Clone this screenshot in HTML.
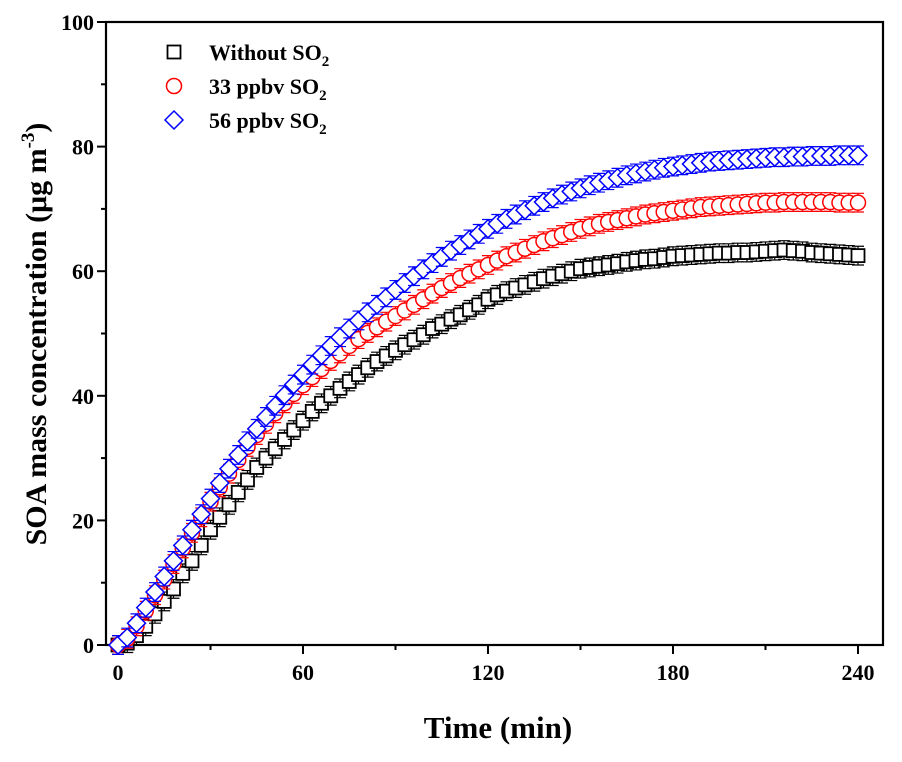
<!DOCTYPE html>
<html><head><meta charset="utf-8"><style>
body{margin:0;background:#fff}
svg text{font-family:"Liberation Serif",serif;font-weight:bold}
</style></head><body>
<svg id="chart" width="902" height="757" xmlns="http://www.w3.org/2000/svg"></svg>
<script>
const times=[];for(let t=0;t<=240;t+=3)times.push(t);
const seriesNames=["Without SO2","33 ppbv SO2","56 ppbv SO2"];
const blackVals=[0,0.3,1.5,3,5,7,9,11.5,13.5,16,18.5,20.5,22.5,24.5,26.5,28.5,30,31.5,33,34.5,36,37.5,38.8,40,41.2,42.3,43.4,44.5,45.5,46.4,47.3,48.2,49,49.8,50.8,51.5,52.3,53,53.8,54.6,55.5,56.2,56.8,57.3,57.8,58.3,58.8,59.2,59.6,60,60.4,60.6,60.8,61,61.2,61.5,61.7,61.9,62,62.2,62.4,62.5,62.6,62.7,62.8,62.9,62.9,63,63,63.1,63.2,63.3,63.4,63.3,63.2,63,62.9,62.8,62.7,62.6,62.5];
const redVals=[0,1,3,5.5,8,10.5,13,15.5,18,20.5,23,25.3,27.5,29.7,31.8,33.7,35.5,37.2,38.8,40.3,41.7,43,44.3,45.6,46.8,48,49.1,50.1,51,51.9,52.8,53.7,54.6,55.5,56.4,57.3,58.1,58.9,59.6,60.3,61,61.7,62.4,63,63.6,64.2,64.8,65.3,65.8,66.3,66.8,67.2,67.6,67.9,68.2,68.5,68.8,69.1,69.3,69.5,69.7,69.9,70.1,70.3,70.4,70.5,70.6,70.7,70.8,70.9,71,71,71.1,71.1,71.1,71.1,71.1,71.1,71,71,71];
const blueVals=[0,1.2,3.5,6,8.5,11,13.5,16,18.5,21,23.5,26,28.3,30.5,32.7,34.7,36.6,38.4,40.1,41.8,43.4,45,46.5,48,49.4,50.8,52.1,53.4,54.6,55.8,57,58.1,59.2,60.3,61.3,62.3,63.3,64.2,65.1,66,66.8,67.6,68.4,69.1,69.8,70.5,71.1,71.7,72.3,72.8,73.3,73.8,74.2,74.6,75,75.4,75.7,76,76.3,76.6,76.8,77,77.2,77.4,77.6,77.7,77.8,77.9,78,78.1,78.2,78.3,78.3,78.4,78.4,78.5,78.5,78.5,78.6,78.6,78.6];
const errVal=1.5;
const xTicks=[0,60,120,180,240];
const yTicks=[0,20,40,60,80,100];

const NS="http://www.w3.org/2000/svg";
const svg=document.getElementById('chart');
const L=106,R=883,T=22,B=645;
const X=v=>118+v*(740/240);
const Y=v=>B-v*(B-T)/100;
function mk(tag,attrs,parent){const e=document.createElementNS(NS,tag);for(const k in attrs)e.setAttribute(k,attrs[k]);(parent||svg).appendChild(e);return e;}

const frame=mk('rect',{x:L,y:T,width:R-L,height:B-T,fill:'none',stroke:'#000','stroke-width':2.2});



for(let v=0;v<=240;v+=30){
 const major=v%60===0;
 const t=mk('line',{x1:X(v),x2:X(v),y1:B,y2:B+(major?9:5),stroke:'#000','stroke-width':2});
 
 
}
xTicks.forEach(v=>{
 const t=mk('text',{x:X(v),y:B+35,'text-anchor':'middle','font-size':22});
 t.textContent=v;
 
 
});
for(let v=0;v<=100;v+=10){
 const major=v%20===0;
 const t=mk('line',{x1:L-(major?9:5),x2:L,y1:Y(v),y2:Y(v),stroke:'#000','stroke-width':2});
 
 
}
yTicks.forEach(v=>{
 const t=mk('text',{x:L-12,y:Y(v)+8,'text-anchor':'end','font-size':22});
 t.textContent=v;
 
 
});

const xt=mk('text',{x:498,y:738,'text-anchor':'middle','font-size':31});
xt.textContent='Time (min)';


const yt=mk('text',{transform:'translate(46,334) rotate(-90)','text-anchor':'middle','font-size':30});
yt.innerHTML='SOA mass concentration (μg m<tspan font-size="19" dy="-12">-3</tspan><tspan dy="12">)</tspan>';



function marker(kind,cx,cy,color,g){
 if(kind==='sq')return mk('rect',{x:cx-6.5,y:cy-6.5,width:13,height:13,fill:'#fff',stroke:color,'stroke-width':1.8},g);
 if(kind==='ci')return mk('circle',{cx:cx,cy:cy,r:7.5,fill:'#fff',stroke:color,'stroke-width':1.5},g);
 return mk('polygon',{points:`${cx},${cy-9} ${cx+9},${cy} ${cx},${cy+9} ${cx-9},${cy}`,fill:'#fff',stroke:color,'stroke-width':1.5},g);
}
function drawSeries(vals,kind,color,name){
 const g=mk('g',{});
 
 
 vals.forEach((v,i)=>{
  const cx=X(times[i]),y1=Y(v+errVal),y2=Y(v-errVal);
  mk('path',{d:`M${cx},${y1}V${y2}M${cx-6},${y1}H${cx+6}M${cx-6},${y2}H${cx+6}`,stroke:color,'stroke-width':1.2,fill:'none'},g);
  const m=marker(kind,cx,Y(v),color,g);
  
  
 });
}
drawSeries(blackVals,'sq','#000','series-without-so2');
drawSeries(redVals,'ci','#f00','series-33-ppbv');
drawSeries(blueVals,'di','#00f','series-56-ppbv');

const kinds=['sq','ci','di'],colors=['#000','#f00','#00f'];
const labels=['Without SO','33 ppbv SO','56 ppbv SO'];
labels.forEach((lb,i)=>{
 const cy=52+i*34;
 const g=mk('g',{});
 
 
 marker(kinds[i],174,cy,colors[i],g);
 const t=mk('text',{x:209,y:cy+8,'font-size':22},g);
 t.innerHTML=lb+'<tspan font-size="15" dy="6">2</tspan>';
});
</script>
</body></html>
